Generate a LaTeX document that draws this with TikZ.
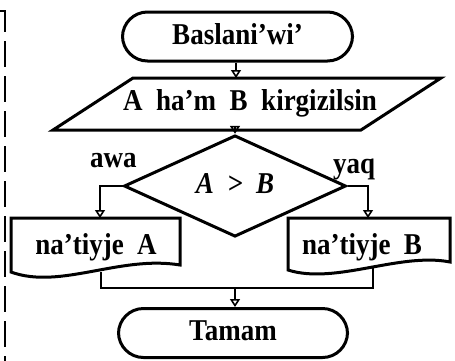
\documentclass[tikz,border=0pt]{standalone}
\usepackage{fontspec}
\usepackage{graphicx}
\setmainfont{Liberation Serif}
\usetikzlibrary{shapes.geometric,arrows.meta}
\newcommand{\tallt}[1]{\scalebox{1}[1.12]{#1}}
\begin{document}
\begin{tikzpicture}[x=1pt,y=-1pt,
 shp/.style={draw, line width=3pt, fill=white},
 term/.style={shp, rounded corners=25pt, minimum height=49pt, inner sep=0pt},
 lbl/.style={font=\fontsize{27}{30}\selectfont\bfseries, text height=19pt, text depth=4pt},
 conn/.style={line width=2.6pt},
 arr/.style={conn, -{Triangle[open,length=8pt,width=10pt,line width=1.6pt]}},
]
\useasboundingbox (0,0) rectangle (455,360);
% left dashed border
\draw[line width=2.2pt, dash pattern=on 26pt off 9pt] (0,11) -- (5,11) -- (5,362);

% coordinates
\coordinate (inpTop) at (236,78);
\coordinate (inpBot) at (235,130);
\coordinate (aTop) at (100,218);
\coordinate (aBot) at (101,272);
\coordinate (bTop) at (368,218);
\coordinate (bBot) at (373,264);
\coordinate (mA) at (101,288);
\coordinate (mB) at (373,288);
\coordinate (mC) at (235,288);

% merge line (under the boxes)
\draw[conn] (aBot) -- (mA) -- (mB) -- (bBot);

% start
\node[term, lbl, minimum width=230pt] (start) at (237.5,36.5) {\tallt{Baslani’wi’}};

% input parallelogram
\draw[shp] (133,78) -- (441,78) -- (361,130) -- (53,130) -- cycle;
\node[lbl] (inp) at (250,103) {\tallt{A\ \ ha’m\ \ B\ \ kirgizilsin}};

% decision
\node[shp, diamond, minimum width=222pt, minimum height=74pt, inner sep=0pt, lbl] (dia) at (235,186) {\tallt{\itshape A\ \ >\ \ B}};

% output boxes
\draw[shp] (11,218) -- (180,218) -- (180,265) .. controls (120,255) and (60,290) .. (11,272) -- cycle;
\node[lbl] (resA) at (96,247) {\tallt{na’tiyje\ \ A}};
\draw[shp] (288,218) -- (450,218) -- (450,262) .. controls (400,252) and (335,285) .. (288,270) -- cycle;
\node[lbl] (resB) at (362,247) {\tallt{na’tiyje\ \ B}};

% end
\node[term, lbl, minimum width=229pt] (end) at (233,333) {\tallt{Tamam}};

% labels
\node[lbl, anchor=base west, inner sep=0pt] (awa) at (90,167) {\tallt{awa}};
\node[lbl, anchor=base west, inner sep=0pt] (yaq) at (333,173) {\tallt{yaq}};

% arrows
\draw[arr] (start.south -| inpTop) -- (inpTop);
\draw[arr] (inpBot) -- (dia.north);
\draw[arr] (dia.west) -| (aTop);
\draw[arr] (dia.east) -| (bTop);
\draw[arr] (mC) -- (mC |- end.north);
\end{tikzpicture}
\end{document}
